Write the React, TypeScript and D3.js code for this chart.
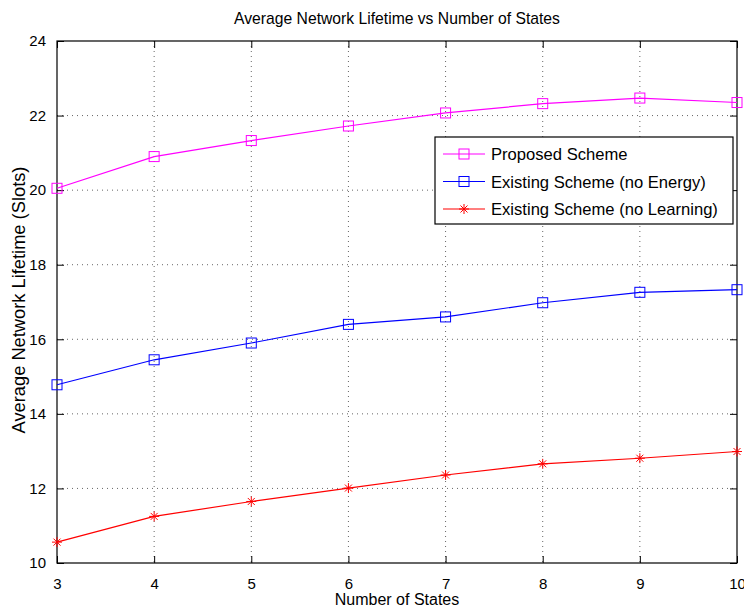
import React, { useEffect, useRef } from 'react';
import * as d3 from 'd3';

const states = [3, 4, 5, 6, 7, 8, 9, 10];
const proposed = [20.05, 20.9, 21.33, 21.72, 22.07, 22.32, 22.47, 22.35];
const noEnergy = [14.78, 15.45, 15.9, 16.4, 16.6, 16.98, 17.26, 17.33];
const noLearning = [10.56, 11.25, 11.65, 12.01, 12.36, 12.66, 12.81, 12.99];
const yTicks = [10, 12, 14, 16, 18, 20, 22, 24];

const series = [
  { name: 'Proposed Scheme', values: proposed, color: '#ff00ff', marker: 'square' },
  { name: 'Existing Scheme (no Energy)', values: noEnergy, color: '#0000ff', marker: 'square' },
  { name: 'Existing Scheme (no Learning)', values: noLearning, color: '#ff0000', marker: 'star' },
];

const W = 744;
const H = 611;
const margin = { top: 41, right: 7, bottom: 48, left: 57 };
const font = 'Liberation Sans, Arial, Helvetica, sans-serif';

const drawMarker = (g, type, x, y, color) => {
  if (type === 'square') {
    g.append('rect')
      .attr('x', x - 5).attr('y', y - 5).attr('width', 10).attr('height', 10)
      .attr('fill', 'none').attr('stroke', color).attr('stroke-width', 1);
  } else {
    const r = 5;
    [[0, r, 0, -r], [-r, 0, r, 0], [-r * 0.7, -r * 0.7, r * 0.7, r * 0.7], [-r * 0.7, r * 0.7, r * 0.7, -r * 0.7]]
      .forEach(([x1, y1, x2, y2]) => {
        g.append('line')
          .attr('x1', x + x1).attr('y1', y + y1).attr('x2', x + x2).attr('y2', y + y2)
          .attr('stroke', color).attr('stroke-width', 1);
      });
  }
};

export default function App() {
  const svgRef = useRef(null);

  useEffect(() => {
    const svg = d3.select(svgRef.current);
    svg.selectAll('*').remove();

    const width = W - margin.left - margin.right;
    const height = H - margin.top - margin.bottom;

    const x = d3.scaleLinear().domain([3, 10]).range([0, width]);
    const y = d3.scaleLinear().domain([10, 24]).range([height, 0]);

    svg.append('rect').attr('width', W).attr('height', H).attr('fill', '#fff');

    const g = svg.append('g').attr('transform', `translate(${margin.left},${margin.top})`);

    // grid
    g.selectAll('.vgrid').data(states.slice(1, -1)).enter().append('line')
      .attr('x1', d => x(d)).attr('x2', d => x(d)).attr('y1', 0).attr('y2', height)
      .attr('stroke', '#666').attr('stroke-width', 1).attr('stroke-dasharray', '1,4');
    g.selectAll('.hgrid').data(yTicks.slice(1, -1)).enter().append('line')
      .attr('y1', d => y(d)).attr('y2', d => y(d)).attr('x1', 0).attr('x2', width)
      .attr('stroke', '#666').attr('stroke-width', 1).attr('stroke-dasharray', '1,4');

    // axes
    const tick = 7;
    const fmt = d3.format('d');
    const bottom = g.append('g').attr('transform', `translate(0,${height})`)
      .call(d3.axisBottom(x).tickValues(states).tickFormat(fmt).tickSize(-tick).tickPadding(tick + 8).tickSizeOuter(0));
    const top = g.append('g')
      .call(d3.axisTop(x).tickValues(states).tickSize(-tick).tickFormat(() => '').tickSizeOuter(0));
    const left = g.append('g')
      .call(d3.axisLeft(y).tickValues(yTicks).tickFormat(fmt).tickSize(-tick).tickPadding(tick + 4).tickSizeOuter(0));
    const right = g.append('g').attr('transform', `translate(${width},0)`)
      .call(d3.axisRight(y).tickValues(yTicks).tickSize(-tick).tickFormat(() => '').tickSizeOuter(0));
    [bottom, top, left, right].forEach(a => {
      a.select('.domain').remove();
      a.selectAll('line').attr('stroke', '#000');
      a.selectAll('text').attr('font-family', font).attr('font-size', 15).attr('fill', '#000');
    });
    g.append('rect').attr('width', width).attr('height', height)
      .attr('fill', 'none').attr('stroke', '#000').attr('stroke-width', 1.2);

    // lines
    const line = d3.line().x((d, i) => x(states[i])).y(d => y(d));
    series.forEach(s => {
      g.append('path').datum(s.values).attr('d', line)
        .attr('fill', 'none').attr('stroke', s.color).attr('stroke-width', 1.2);
      s.values.forEach((v, i) => drawMarker(g, s.marker, x(states[i]), y(v), s.color));
    });

    // legend
    const lg = svg.append('g').attr('transform', 'translate(435,137)');
    lg.append('rect').attr('width', 298).attr('height', 87)
      .attr('fill', '#fff').attr('stroke', '#000').attr('stroke-width', 1.2);
    series.forEach((s, i) => {
      const ly = 17 + i * 27.5;
      lg.append('line').attr('x1', 8).attr('x2', 50).attr('y1', ly).attr('y2', ly)
        .attr('stroke', s.color).attr('stroke-width', 1.2);
      drawMarker(lg, s.marker, 29, ly, s.color);
      lg.append('text').attr('x', 56).attr('y', ly + 6)
        .attr('font-family', font).attr('font-size', 16.6).attr('fill', '#000').text(s.name);
    });

    // titles
    svg.append('text').attr('x', margin.left + width / 2).attr('y', 24)
      .attr('text-anchor', 'middle').attr('font-family', font).attr('font-size', 15.7)
      .text('Average Network Lifetime vs Number of States');
    svg.append('text').attr('x', margin.left + width / 2).attr('y', 605)
      .attr('text-anchor', 'middle').attr('font-family', font).attr('font-size', 16)
      .text('Number of States');
    svg.append('text')
      .attr('transform', `translate(25,${margin.top + height / 2 - 2}) rotate(-90)`)
      .attr('text-anchor', 'middle').attr('font-family', font).attr('font-size', 18.3)
      .text('Average Network Lifetime (Slots)');
  }, []);

  return <svg ref={svgRef} width={W} height={H} style={{ display: 'block', position: 'absolute', left: 0, top: 0 }} />;
}
